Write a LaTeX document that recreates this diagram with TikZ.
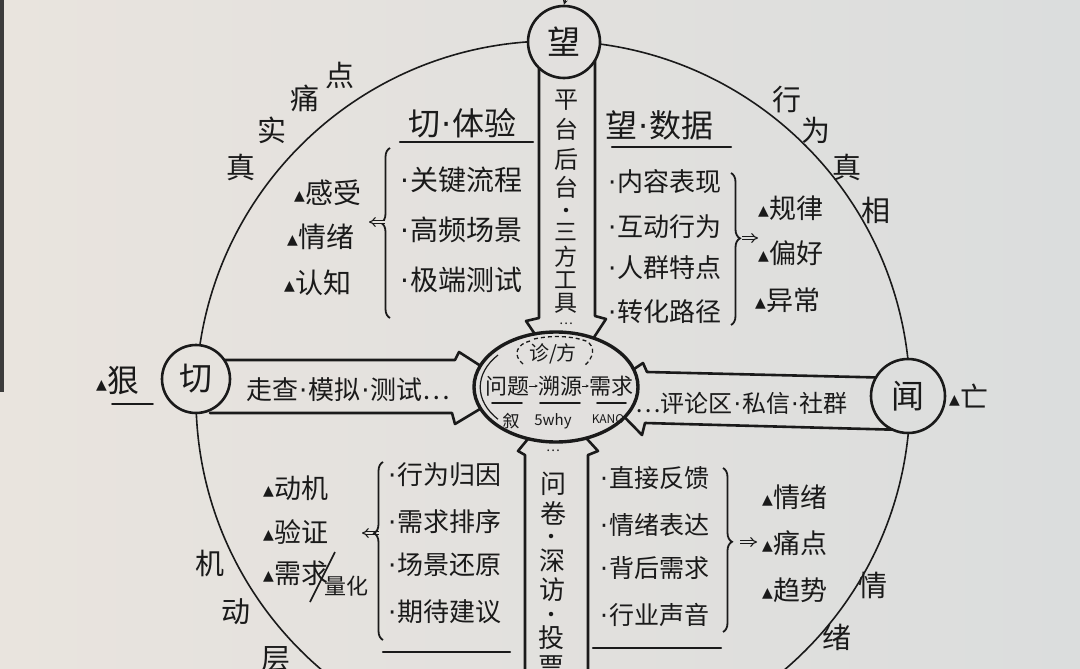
\documentclass[tikz,border=0pt]{standalone}
\usepackage{fontspec}
\setmainfont{Noto Sans CJK SC}
\newfontfamily\dejavu{DejaVu Sans}
\usetikzlibrary{arrows.meta,decorations.pathreplacing,shapes.geometric}
\definecolor{bgL}{RGB}{233,228,222}
\definecolor{bgR}{RGB}{219,221,221}
\colorlet{bgA}{bgR!18!bgL}
\colorlet{bgM}{bgR!50!bgL}
\colorlet{bgB}{bgR!85!bgL}
\definecolor{inkc}{RGB}{26,26,26}
\newcommand\tri{\raisebox{3pt}{\dejavu\fontsize{14}{14}\selectfont ▲}\hspace{1pt}}
\newcommand\bul{{\dejavu ·}\hspace{1pt}}
\newcommand\sepd{\hspace{1pt}{\dejavu ·}\hspace{1pt}}
\begin{document}
\begin{tikzpicture}[x=1pt,y=-1pt,
  hand/.style={text=inkc, inner sep=0pt},
  fs/.style={font=\fontsize{#1}{#1}\selectfont},
  blk/.style={draw=inkc, line width=2.6pt, line join=round, line cap=round},
  uline/.style={draw=inkc, line width=2.2pt, line cap=round},
  brc/.style={draw=inkc, line width=1.8pt, decorate},
  dbl/.style={draw=inkc, line width=1.1pt, double=#1, double distance=2.2pt, -{Implies}},
  ring/.style={circle, draw=inkc, line width=2.6pt, inner sep=0pt, text=inkc, font=\fontsize{33}{33}\selectfont},
  vdot/.style={circle, fill=inkc, inner sep=0pt, minimum size=4.5pt}
]
\useasboundingbox (0,0) rectangle (1080,669);
\shade[left color=bgL, right color=bgR] (0,0) rectangle (1080,669);
\fill[inkc!85] (0,0) rectangle (4,392);
\begin{scope}
\clip (0,0) rectangle (1080,669);

% big circle
\draw[inkc, line width=1.6pt] (553,398) circle [radius=357pt];

% block arrows
\draw[blk] (539,60) -- (539,318) -- (526,321) -- (566,380) -- (606,319) -- (595,316) -- (595,60);
\draw[blk] (525,690) -- (525,455) -- (518,451) -- (556,405) -- (598,451) -- (588,455) -- (588,690);
\draw[blk] (200,360) -- (455,360) -- (459,352) -- (515,388) -- (455,424) -- (452,413) -- (210,413);
\draw[blk] (900,378) -- (647,372) -- (643,363) -- (600,392) -- (642,435) -- (645,423) -- (905,430);

% circles and hub
\node[ring, fill=bgM, minimum size=72pt] (wang) at (564,42) {望};
\node[ring, fill=bgA, minimum size=68pt] (qie) at (196,379) {切};
\node[ring, fill=bgB, minimum size=74pt] (wen) at (908,396) {闻};
\node[ellipse, draw=inkc, line width=3.4pt, fill=bgM, minimum width=164pt, minimum height=110pt, inner sep=0pt] (hub) at (556,387) {};
\draw[inkc, line width=1.2pt] (498,355) arc[start angle=140, end angle=220, x radius=76pt, y radius=50pt];
\coordinate (topin) at (567,-6);
\draw[inkc, line width=1.4pt, -{Stealth[length=5pt,width=5pt]}] (topin) -- (wang.north);

% hub content
\node[hand, fs=20] (zf) at (553,354) {诊/方};
\draw[inkc, line width=1.3pt, dash pattern=on 4pt off 3pt] (523,364) .. controls (512,355) and (517,344) .. (530,341);
\draw[inkc, line width=1.3pt, dash pattern=on 4pt off 3pt] (534,339) .. controls (552,335) and (572,336) .. (586,341) .. controls (596,346) and (594,358) .. (584,366);
\node[hand, fs=22] (q1) at (507,386) {问题};
\node[hand, fs=22] (q2) at (560,386) {溯源};
\node[hand, fs=22] (q3) at (611,386) {需求};
\draw[inkc, line width=0.9pt, -{Stealth[length=3pt,width=3pt]}] (q1.east) -- (q2.west);
\draw[inkc, line width=0.9pt, -{Stealth[length=3pt,width=3pt]}] (q2.east) -- (q3.west);
\draw[uline, line width=1.6pt] (492,403) -- (522,403);
\draw[uline, line width=1.6pt] (540,403) -- (580,403);
\draw[uline, line width=1.6pt] (597,403) -- (626,403);
\node[hand, fs=17] (s1) at (511,421) {叙};
\node[hand, fs=15] (s2) at (553,421) {5why};
\node[hand, fs=12] (s3) at (608,419) {KANO};

% vertical texts
\foreach \c/\yy [count=\i] in {平/100,台/129,后/159,台/187}
  \node[hand, fs=24] (vt\i) at (566,\yy) {\c};
\node[vdot] (vtd) at (566,210) {};
\foreach \c/\yy [count=\i] in {三/232,方/257,工/280,具/303}
  \node[hand, fs=23] (vu\i) at (566,\yy) {\c};
\node[hand, fs=13] (vte) at (566,324) {…};
\node[hand, fs=13] (vbe) at (553,451) {…};
\foreach \c/\yy [count=\i] in {问/484,卷/513}
  \node[hand, fs=26] (vb\i) at (553,\yy) {\c};
\node[vdot] (vbd1) at (551,536) {};
\foreach \c/\yy [count=\i] in {深/561,访/590}
  \node[hand, fs=26] (vc\i) at (552,\yy) {\c};
\node[vdot] (vbd2) at (551,614) {};
\foreach \c/\yy [count=\i] in {投/638,票/667}
  \node[hand, fs=26] (vd\i) at (551,\yy) {\c};

% horizontal arrow texts
\node[hand, fs=26, anchor=west] (lt) at (246,390) {走查\sepd 模拟\sepd 测试…};
\node[hand, fs=24, anchor=west] (rt) at (635,403) {…评论区\sepd 私信\sepd 社群};

% top-left quadrant
\node[hand, fs=32, anchor=west] (hTL) at (408,123) {切\sepd 体验};
\draw[uline] (400,142) -- (533,142);
\node[hand, fs=28, anchor=west] (iTL1) at (400,180) {\bul 关键流程};
\node[hand, fs=28, anchor=west] (iTL2) at (400,230) {\bul 高频场景};
\node[hand, fs=28, anchor=west] (iTL3) at (400,280) {\bul 极端测试};
\draw[brc, decoration={brace, amplitude=9pt, aspect=0.56}] (390,318) -- (390,148);
\coordinate (aTL1) at (385,222); \coordinate (aTL2) at (369,222);
\draw[dbl=bgA] (aTL1) -- (aTL2);
\node[hand, fs=28, anchor=west] (rTL1) at (294,193) {\tri 感受};
\node[hand, fs=28, anchor=west] (rTL2) at (287,237) {\tri 情绪};
\node[hand, fs=28, anchor=west] (rTL3) at (284,283) {\tri 认知};

% top-right quadrant
\node[hand, fs=32, anchor=west] (hTR) at (605,125) {望\sepd 数据};
\draw[uline] (612,147) -- (731,147);
\node[hand, fs=26, anchor=west] (iTR1) at (608,182) {\bul 内容表现};
\node[hand, fs=26, anchor=west] (iTR2) at (608,227) {\bul 互动行为};
\node[hand, fs=26, anchor=west] (iTR3) at (608,268) {\bul 人群特点};
\node[hand, fs=26, anchor=west] (iTR4) at (608,312) {\bul 转化路径};
\draw[brc, decoration={brace, amplitude=9pt, aspect=0.43}] (731,173) -- (731,325);
\coordinate (aTR1) at (742,238); \coordinate (aTR2) at (758,238);
\draw[dbl=bgB] (aTR1) -- (aTR2);
\node[hand, fs=27, anchor=west] (rTR1) at (758,208) {\tri 规律};
\node[hand, fs=27, anchor=west] (rTR2) at (758,253) {\tri 偏好};
\node[hand, fs=27, anchor=west] (rTR3) at (755,300) {\tri 异常};

% bottom-left quadrant
\node[hand, fs=32, anchor=west] (hen) at (96,381) {\tri 狠};
\draw[uline, line width=1.8pt] (112,404) -- (153,404);
\node[hand, fs=27, anchor=west] (rBL1) at (263,488) {\tri 动机};
\node[hand, fs=27, anchor=west] (rBL2) at (263,532) {\tri 验证};
\node[hand, fs=27, anchor=west] (rBL3) at (263,573) {\tri 需求};
\draw[inkc, line width=1.6pt] (310,602) -- (335,552);
\node[hand, fs=22] (rBL3b) at (346,586) {量化};
\coordinate (aBL1) at (379,533); \coordinate (aBL2) at (362,533);
\draw[dbl=bgA] (aBL1) -- (aBL2);
\draw[brc, decoration={brace, amplitude=9pt, aspect=0.6}] (383,640) -- (383,462);
\node[hand, fs=26, anchor=west] (iBL1) at (388,475) {\bul 行为归因};
\node[hand, fs=26, anchor=west] (iBL2) at (388,522) {\bul 需求排序};
\node[hand, fs=26, anchor=west] (iBL3) at (388,565) {\bul 场景还原};
\node[hand, fs=26, anchor=west] (iBL4) at (388,612) {\bul 期待建议};
\draw[uline] (383,652) -- (510,652);

% bottom-right quadrant
\node[hand, fs=25, anchor=west] (iBR1) at (600,478) {\bul 直接反馈};
\node[hand, fs=25, anchor=west] (iBR2) at (600,525) {\bul 情绪表达};
\node[hand, fs=25, anchor=west] (iBR3) at (600,568) {\bul 背后需求};
\node[hand, fs=25, anchor=west] (iBR4) at (600,615) {\bul 行业声音};
\draw[brc, decoration={brace, amplitude=9pt, aspect=0.45}] (723,468) -- (723,632);
\coordinate (aBR1) at (740,542); \coordinate (aBR2) at (757,542);
\draw[dbl=bgB] (aBR1) -- (aBR2);
\node[hand, fs=27, anchor=west] (rBR1) at (762,497) {\tri 情绪};
\node[hand, fs=27, anchor=west] (rBR2) at (762,543) {\tri 痛点};
\node[hand, fs=27, anchor=west] (rBR3) at (762,590) {\tri 趋势};
\draw[uline] (593,648) -- (721,648);
\node[hand, fs=28, anchor=west] (wang2) at (949,396) {\tri 亡};

% arc labels
\foreach \c/\xx/\yy [count=\i] in {真/241/167,实/272/130,痛/305/98,点/340/75,行/787/100,为/816/130,真/847/167,相/876/210,机/210/563,动/236/612,层/276/659,情/873/585,绪/837/637}
  \node[hand, fs=29] (arc\i) at (\xx,\yy) {\c};
\end{scope}
\end{tikzpicture}
\end{document}
